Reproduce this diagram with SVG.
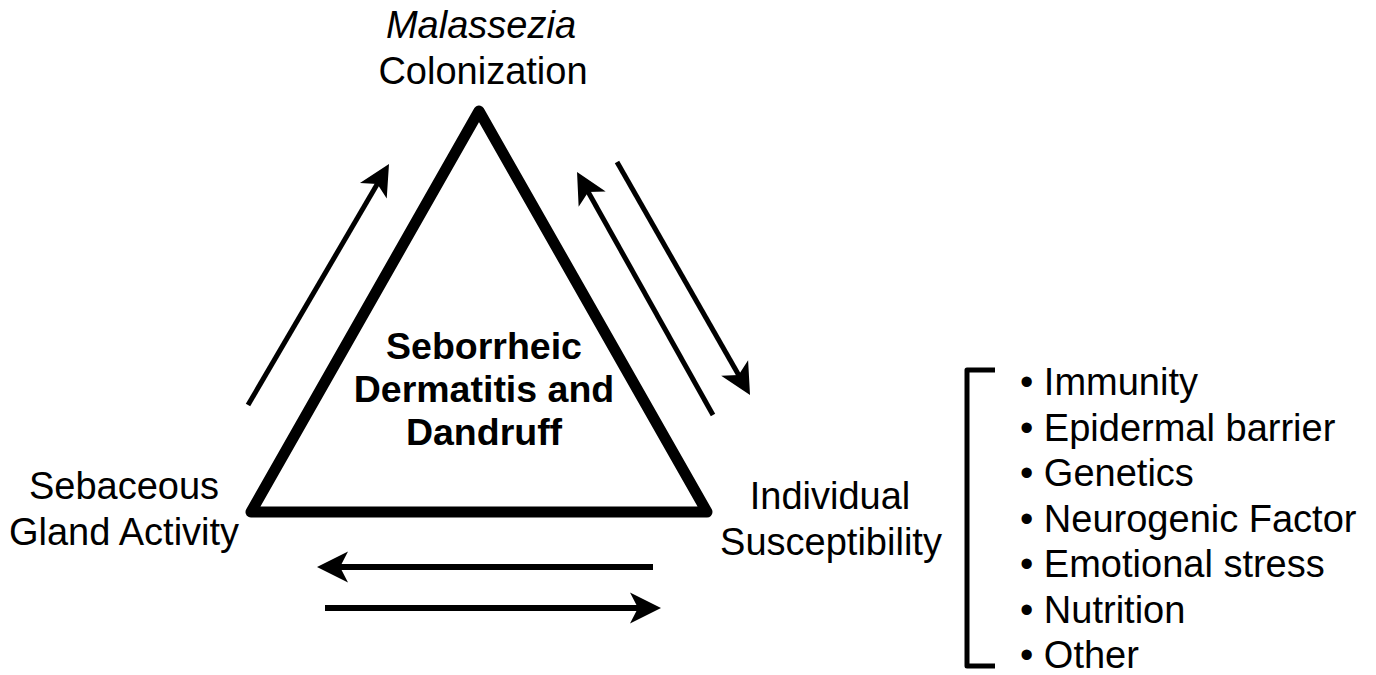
<svg xmlns="http://www.w3.org/2000/svg" width="1376" height="675" viewBox="0 0 1376 675">
<style>
text{font-family:"Liberation Sans",Arial,sans-serif;font-size:38px;fill:#000}
.c{text-anchor:middle}
.b{font-weight:bold;font-size:37.5px}
.i{font-style:italic}
.arr{stroke:#000;fill:none;marker-end:url(#ah)}
</style>
<defs>
<marker id="ah" viewBox="-12 -16 34 32" refX="0" refY="0" markerWidth="34" markerHeight="32" markerUnits="userSpaceOnUse" orient="auto" overflow="visible">
<path d="M20,0 L-11,-15.5 L-3,0 L-11,15.5 Z" fill="#000"/>
</marker>
</defs>
<rect width="1376" height="675" fill="#fff"/>
<g id="triangle">
<polygon points="479,111 251,512 707,512" fill="none" stroke="#000" stroke-width="11" stroke-linejoin="round"/>
<text class="c b" x="484" y="359">Seborrheic</text>
<text class="c b" x="484" y="402">Dermatitis and</text>
<text class="c b" x="484" y="445">Dandruff</text>
</g>
<g id="malassezia">
<text class="c i" x="481" y="38">Malassezia</text>
<text class="c" x="483" y="84">Colonization</text>
</g>
<g id="sebaceous">
<text class="c" x="124" y="499">Sebaceous</text>
<text class="c" x="124" y="545">Gland Activity</text>
</g>
<g id="individual">
<text class="c" x="830" y="509">Individual</text>
<text class="c" x="831" y="555">Susceptibility</text>
</g>
<g id="factors">
<path d="M995,370 L967,370 L967,666 L995,666" fill="none" stroke="#000" stroke-width="5" stroke-linejoin="round"/>
<text x="1020" y="395">• Immunity</text>
<text x="1020" y="440.5">• Epidermal barrier</text>
<text x="1020" y="486">• Genetics</text>
<text x="1020" y="531.5">• Neurogenic Factor</text>
<text x="1020" y="577">• Emotional stress</text>
<text x="1020" y="622.5">• Nutrition</text>
<text x="1020" y="668">• Other</text>
</g>
<g id="connectors">
<line class="arr" x1="248" y1="405" x2="378.9" y2="181.3" stroke-width="5"/>
<line class="arr" x1="713" y1="415" x2="586.8" y2="189.5" stroke-width="5"/>
<line class="arr" x1="617" y1="162" x2="740.1" y2="377.6" stroke-width="5"/>
<line class="arr" x1="653" y1="567" x2="337" y2="567" stroke-width="6"/>
<line class="arr" x1="325" y1="608" x2="641" y2="608" stroke-width="6"/>
</g>
</svg>
